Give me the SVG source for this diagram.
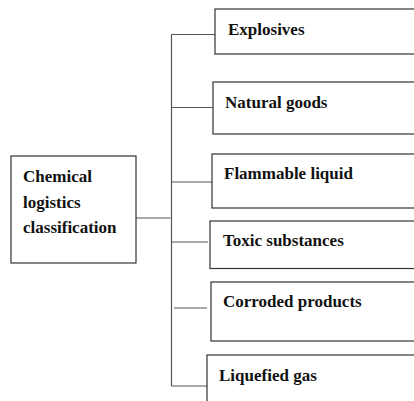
<svg xmlns="http://www.w3.org/2000/svg" width="414" height="401" viewBox="0 0 414 401">
<style>
.box{fill:#fff;stroke:#333;stroke-width:1.2}
.lbl{font-family:"Liberation Serif","Times New Roman",serif;font-weight:bold;font-size:17px;fill:#111}
.con{fill:none;stroke:#555;stroke-width:1.2}
</style>
<rect width="414" height="401" fill="#fff"/>
<g id="connectors">
<path class="con" d="M171.5,34.5 V386"/>
<path class="con" d="M136,218 H170.5"/>
<path class="con" d="M171.5,34.5 H215"/>
<path class="con" d="M171.5,107.5 H213"/>
<path class="con" d="M171.5,182 H212"/>
<path class="con" d="M172,242 H208"/>
<path class="con" d="M174,308 H207"/>
<path class="con" d="M171.5,386 H207"/>
</g>
<g id="root">
<rect class="box" x="11" y="156" width="125" height="107"/>
<text class="lbl" x="23" y="182">Chemical</text>
<text class="lbl" x="23" y="207.5">logistics</text>
<text class="lbl" x="23" y="233">classification</text>
</g>
<g id="explosives">
<rect class="box" x="215" y="9" width="210" height="45"/>
<text class="lbl" x="228" y="35">Explosives</text>
</g>
<g id="natural-goods">
<rect class="box" x="213" y="82" width="210" height="52"/>
<text class="lbl" x="225" y="108">Natural goods</text>
</g>
<g id="flammable-liquid">
<rect class="box" x="212" y="154" width="210" height="54"/>
<text class="lbl" x="224" y="179">Flammable liquid</text>
</g>
<g id="toxic-substances">
<rect class="box" x="210" y="221" width="210" height="47.5"/>
<text class="lbl" x="223" y="246">Toxic substances</text>
</g>
<g id="corroded-products">
<rect class="box" x="211" y="282" width="210" height="59"/>
<text class="lbl" x="223" y="307">Corroded products</text>
</g>
<g id="liquefied-gas">
<rect class="box" x="207" y="355" width="210" height="60"/>
<text class="lbl" x="219" y="381">Liquefied gas</text>
</g>
</svg>
